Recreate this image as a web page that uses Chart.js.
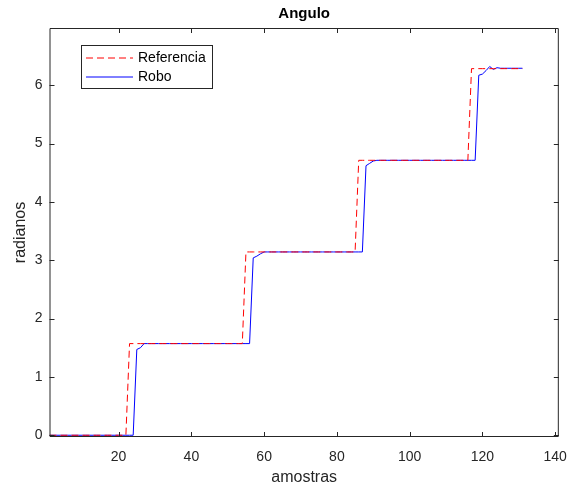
<!DOCTYPE html>
<html>
<head>
<meta charset="utf-8">
<script src="https://cdn.jsdelivr.net/npm/chart.js@4/dist/chart.umd.min.js"></script>
<style>
  body { margin: 0; background: #fff; }
  #wrap { width: 579px; height: 489px; }
</style>
</head>
<body>
<div id="wrap"><canvas id="myChart" width="579" height="489"></canvas></div>
<script>
// samples 1..131
const amostras = [
  1,2,3,4,5,6,7,8,9,10,11,12,13,14,15,16,17,18,19,20,
  21,22,23,24,25,26,27,28,29,30,31,32,33,34,35,36,37,38,39,40,
  41,42,43,44,45,46,47,48,49,50,51,52,53,54,55,56,57,58,59,60,
  61,62,63,64,65,66,67,68,69,70,71,72,73,74,75,76,77,78,79,80,
  81,82,83,84,85,86,87,88,89,90,91,92,93,94,95,96,97,98,99,100,
  101,102,103,104,105,106,107,108,109,110,111,112,113,114,115,116,117,118,119,120,
  121,122,123,124,125,126,127,128,129,130,131
];

const referencia = [
  0,0,0,0,0,0,0,0,0,0,0,0,0,0,0,0,0,0,0,0,
  0,0,1.5708,1.5708,1.5708,1.5708,1.5708,1.5708,1.5708,1.5708,1.5708,1.5708,1.5708,1.5708,1.5708,1.5708,1.5708,1.5708,1.5708,1.5708,
  1.5708,1.5708,1.5708,1.5708,1.5708,1.5708,1.5708,1.5708,1.5708,1.5708,1.5708,1.5708,1.5708,1.5708,3.1416,3.1416,3.1416,3.1416,3.1416,3.1416,
  3.1416,3.1416,3.1416,3.1416,3.1416,3.1416,3.1416,3.1416,3.1416,3.1416,3.1416,3.1416,3.1416,3.1416,3.1416,3.1416,3.1416,3.1416,3.1416,3.1416,
  3.1416,3.1416,3.1416,3.1416,3.1416,4.7124,4.7124,4.7124,4.7124,4.7124,4.7124,4.7124,4.7124,4.7124,4.7124,4.7124,4.7124,4.7124,4.7124,4.7124,
  4.7124,4.7124,4.7124,4.7124,4.7124,4.7124,4.7124,4.7124,4.7124,4.7124,4.7124,4.7124,4.7124,4.7124,4.7124,4.7124,6.2832,6.2832,6.2832,6.2832,
  6.2832,6.2832,6.2832,6.2832,6.2832,6.2832,6.2832,6.2832,6.2832,6.2832,6.2832
];

const robo = [
  0,0,0,0,0,0,0,0,0,0,0,0,0,0,0,0,0,0,0,0,
  0,0,0,0,1.47,1.50,1.5708,1.5708,1.5708,1.5708,1.5708,1.5708,1.5708,1.5708,1.5708,1.5708,1.5708,1.5708,1.5708,1.5708,
  1.5708,1.5708,1.5708,1.5708,1.5708,1.5708,1.5708,1.5708,1.5708,1.5708,1.5708,1.5708,1.5708,1.5708,1.5708,1.5708,3.04,3.07,3.11,3.1416,
  3.1416,3.1416,3.1416,3.1416,3.1416,3.1416,3.1416,3.1416,3.1416,3.1416,3.1416,3.1416,3.1416,3.1416,3.1416,3.1416,3.1416,3.1416,3.1416,3.1416,
  3.1416,3.1416,3.1416,3.1416,3.1416,3.1416,3.1416,4.62,4.66,4.70,4.7124,4.7124,4.7124,4.7124,4.7124,4.7124,4.7124,4.7124,4.7124,4.7124,
  4.7124,4.7124,4.7124,4.7124,4.7124,4.7124,4.7124,4.7124,4.7124,4.7124,4.7124,4.7124,4.7124,4.7124,4.7124,4.7124,4.7124,4.7124,6.17,6.19,
  6.25,6.32,6.27,6.30,6.29,6.29,6.29,6.29,6.29,6.29,6.29
];

const xTicks = [20, 40, 60, 80, 100, 120, 140];
const yTicks = [0, 1, 2, 3, 4, 5, 6];

const seriesNames = ['Referencia', 'Robo'];
const seriesColors = ['#ff0000', '#0000ff'];
const seriesDash = [[7, 4], []];

const axisColor = '#262626';
const fontFam = '"Liberation Sans", Arial, Helvetica, sans-serif';

function toPoints(xs, ys) {
  return xs.map((x, i) => ({ x: x, y: ys[i] }));
}

// MATLAB style box with inward ticks
const boxPlugin = {
  id: 'boxPlugin',
  afterDatasetsDraw(chart) {
    const c = chart.ctx;
    const a = chart.chartArea;
    const xs = chart.scales.x, ys = chart.scales.y;
    const tl = 5;
    c.save();
    c.strokeStyle = axisColor;
    c.lineWidth = 1;
    c.beginPath();
    c.rect(a.left + 0.5, a.top + 0.5, a.right - a.left - 1, a.bottom - a.top - 1);
    xTicks.forEach(v => {
      const px = Math.round(xs.getPixelForValue(v)) + 0.5;
      c.moveTo(px, a.bottom); c.lineTo(px, a.bottom - tl);
      c.moveTo(px, a.top); c.lineTo(px, a.top + tl);
    });
    yTicks.forEach(v => {
      const py = Math.round(ys.getPixelForValue(v)) + 0.5;
      c.moveTo(a.left, py); c.lineTo(a.left + tl, py);
      c.moveTo(a.right, py); c.lineTo(a.right - tl, py);
    });
    c.stroke();
    c.restore();
  }
};

// legend box in the upper left, like matlab's 'northwest'
const legendBox = {
  id: 'legendBox',
  afterDraw(chart) {
    const c = chart.ctx;
    const lx = 81, ly = 45, lw = 131, lh = 43;
    c.save();
    c.fillStyle = '#ffffff';
    c.fillRect(lx, ly, lw, lh);
    c.lineWidth = 1;
    c.strokeStyle = axisColor;
    c.strokeRect(lx + 0.5, ly + 0.5, lw, lh);
    const rows = [58, 77];
    for (let i = 0; i < seriesNames.length; i++) {
      c.setLineDash(seriesDash[i]);
      c.beginPath();
      c.moveTo(86, rows[i]);
      c.lineTo(133, rows[i]);
      c.strokeStyle = seriesColors[i];
      c.stroke();
    }
    c.setLineDash([]);
    c.fillStyle = '#000000';
    c.font = '14px ' + fontFam;
    c.textBaseline = 'middle';
    c.textAlign = 'left';
    for (let i = 0; i < seriesNames.length; i++) {
      c.fillText(seriesNames[i], 138, rows[i]);
    }
    c.restore();
  }
};

let ctx = document.getElementById('myChart');

var myChart = new Chart(ctx, {
  type: 'line',
  data: {
    datasets: [{
      label: seriesNames[0],
      data: toPoints(amostras, referencia),
      borderColor: seriesColors[0],
      borderDash: seriesDash[0],
      borderWidth: 1,
      pointRadius: 0,
      tension: 0
    }, {
      label: seriesNames[1],
      data: toPoints(amostras, robo),
      borderColor: seriesColors[1],
      borderWidth: 1,
      pointRadius: 0,
      tension: 0
    }]
  },
  options: {
    responsive: false,
    animation: false,
    layout: { padding: { left: 0, right: 11, top: 0, bottom: 0 } },
    plugins: {
      legend: { display: false },
      tooltip: { enabled: false },
      title: {
        display: true,
        text: 'Angulo',
        fullSize: false,
        color: '#000',
        font: { family: fontFam, size: 15, weight: 'bold' },
        padding: { top: 5, bottom: 5 }
      }
    },
    scales: {
      x: {
        type: 'linear',
        min: 1,
        max: 141,
        grid: { display: false, drawTicks: false },
        border: { display: false },
        afterBuildTicks(s) { s.ticks = xTicks.map(v => ({ value: v })); },
        afterFit(s) { s.height = 52; },
        ticks: {
          color: axisColor,
          font: { family: fontFam, size: 14 },
          padding: 12,
          maxRotation: 0
        },
        title: {
          display: true,
          text: 'amostras',
          color: axisColor,
          font: { family: fontFam, size: 16 },
          padding: { top: 0, bottom: 2 }
        }
      },
      y: {
        type: 'linear',
        min: -0.03,
        max: 6.98,
        grid: { display: false, drawTicks: false },
        border: { display: false },
        afterBuildTicks(s) { s.ticks = yTicks.map(v => ({ value: v })); },
        afterFit(s) { s.width = 49.5; },
        ticks: {
          color: axisColor,
          font: { family: fontFam, size: 14 },
          padding: 7
        },
        title: {
          display: true,
          text: 'radianos',
          color: axisColor,
          font: { family: fontFam, size: 16 },
          padding: { top: 11, bottom: 0 }
        }
      }
    }
  },
  plugins: [boxPlugin, legendBox]
});
</script>
</body>
</html>
